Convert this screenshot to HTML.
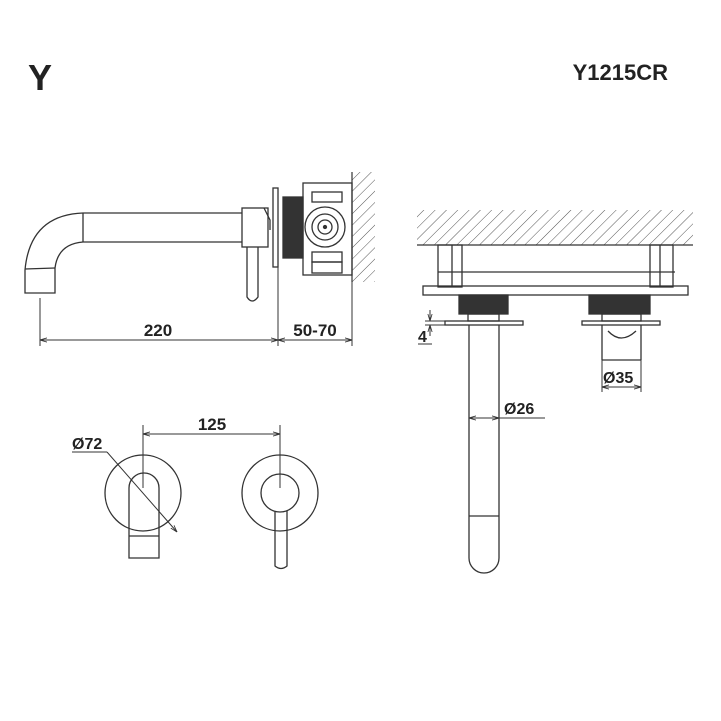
<!DOCTYPE html>
<html><head><style>body{margin:0;background:#fff}svg{display:block}text{font-family:"Liberation Sans",sans-serif;font-weight:bold;fill:#222}</style></head>
<body>
<svg width="721" height="721" viewBox="0 0 721 721" xmlns="http://www.w3.org/2000/svg">
<defs>
<pattern id="h" width="8" height="8" patternUnits="userSpaceOnUse" patternTransform="rotate(45)"><line x1="0" y1="0" x2="0" y2="8" stroke="#555" stroke-width="1"/></pattern>
<marker id="a" viewBox="0 0 10 10" refX="10" refY="5" markerWidth="7" markerHeight="7" orient="auto-start-reverse"><path d="M0,2 L10,5 L0,8" fill="none" stroke="#333" stroke-width="1.2"/></marker>
</defs>
<text x="28" y="90" font-size="36">Y</text>
<text x="668" y="80" font-size="22" text-anchor="end">Y1215CR</text>
<g fill="none" stroke="#333" stroke-width="1.3">
<path d="M242,213 L83,213 Q30,215 25,270 L25,293 L55,293 L55,268 Q58,244 83,242 L242,242"/>
<line x1="83" y1="213" x2="83" y2="242"/>
<line x1="25" y1="269" x2="55" y2="268"/>
<rect x="242" y="208" width="26" height="39"/>
<path d="M247,247 L247,297 Q252,305 258,297 L258,247"/>
<path d="M264,208 L270,220 L270,230"/>
<rect x="273" y="188" width="5" height="79"/>
<rect x="283" y="197" width="20" height="61" fill="#333"/>
<rect x="303" y="183" width="49" height="92"/>
<rect x="312" y="192" width="30" height="10"/>
<rect x="312" y="252" width="30" height="10"/>
<rect x="312" y="262" width="30" height="11"/>
<circle cx="325" cy="227" r="20"/><circle cx="325" cy="227" r="13"/><circle cx="325" cy="227" r="7"/><circle cx="325" cy="227" r="1.5" fill="#333"/>
</g>
<rect x="352" y="172" width="23" height="110" fill="url(#h)"/>
<line x1="352" y1="172" x2="352" y2="282" stroke="#333" stroke-width="1.2"/>
<g stroke="#333" stroke-width="1" fill="none">
<line x1="40" y1="298" x2="40" y2="346"/><line x1="278" y1="267" x2="278" y2="346"/><line x1="352" y1="282" x2="352" y2="346"/>
<line x1="40" y1="340" x2="278" y2="340" marker-start="url(#a)" marker-end="url(#a)"/>
<line x1="278" y1="340" x2="352" y2="340" marker-start="url(#a)" marker-end="url(#a)"/>
</g>
<text x="158" y="336" font-size="17" text-anchor="middle">220</text>
<text x="315" y="336" font-size="17" text-anchor="middle">50-70</text>
<rect x="417" y="210" width="276" height="35" fill="url(#h)"/>
<g fill="none" stroke="#333" stroke-width="1.3">
<line x1="417" y1="245" x2="693" y2="245"/>
<rect x="438" y="245" width="24" height="42"/><line x1="452" y1="245" x2="452" y2="287"/>
<rect x="650" y="245" width="23" height="42"/><line x1="660" y1="245" x2="660" y2="287"/>
<line x1="438" y1="272" x2="675" y2="272"/>
<rect x="423" y="286" width="265" height="9"/>
<rect x="459" y="295" width="49" height="19" fill="#333"/>
<rect x="589" y="295" width="61" height="19" fill="#333"/>
<rect x="468" y="314" width="31" height="7"/><rect x="602" y="314" width="39" height="7"/>
<rect x="445" y="321" width="78" height="4"/><rect x="582" y="321" width="78" height="4"/>
<path d="M469,325 L469,558 A15,15 0 0 0 499,558 L499,325"/>
<line x1="469" y1="516" x2="499" y2="516"/>
<path d="M602,325 L602,360 M641,325 L641,360 M602,360 L641,360"/>
<path d="M608,331 Q621,345 636,331"/>
</g>
<g stroke="#333" stroke-width="1" fill="none">
<line x1="469" y1="418" x2="499" y2="418" marker-start="url(#a)" marker-end="url(#a)"/>
<line x1="499" y1="418" x2="545" y2="418"/>
<line x1="602" y1="360" x2="602" y2="392"/><line x1="641" y1="360" x2="641" y2="392"/>
<line x1="602" y1="387" x2="641" y2="387" marker-start="url(#a)" marker-end="url(#a)"/>
<line x1="425" y1="321" x2="445" y2="321"/><line x1="425" y1="325" x2="445" y2="325"/>
<line x1="430" y1="310" x2="430" y2="321" marker-end="url(#a)"/><line x1="430" y1="336" x2="430" y2="325" marker-end="url(#a)"/>
<line x1="418" y1="344" x2="432" y2="344"/>
</g>
<text x="504" y="414" font-size="16">Ø26</text>
<text x="603" y="383" font-size="16">Ø35</text>
<text x="418" y="342" font-size="16">4</text>
<g fill="none" stroke="#333" stroke-width="1.3">
<circle cx="143" cy="493" r="38"/>
<path d="M129,558 L129,488 A15,15 0 0 1 159,488 L159,558 Z"/>
<line x1="129" y1="536" x2="159" y2="536"/>
<circle cx="280" cy="493" r="38"/>
<circle cx="280" cy="493" r="19"/>
<path d="M275,511 L275,566 Q281,571 287,566 L287,511"/>
</g>
<g stroke="#333" stroke-width="1" fill="none">
<line x1="143" y1="425" x2="143" y2="488"/><line x1="280" y1="425" x2="280" y2="488"/>
<line x1="143" y1="434" x2="280" y2="434" marker-start="url(#a)" marker-end="url(#a)"/>
<line x1="72" y1="452" x2="107" y2="452"/>
<line x1="107" y1="452" x2="177" y2="532" marker-end="url(#a)"/>
</g>
<text x="212" y="430" font-size="17" text-anchor="middle">125</text>
<text x="72" y="449" font-size="16">Ø72</text>
</svg>
</body></html>
